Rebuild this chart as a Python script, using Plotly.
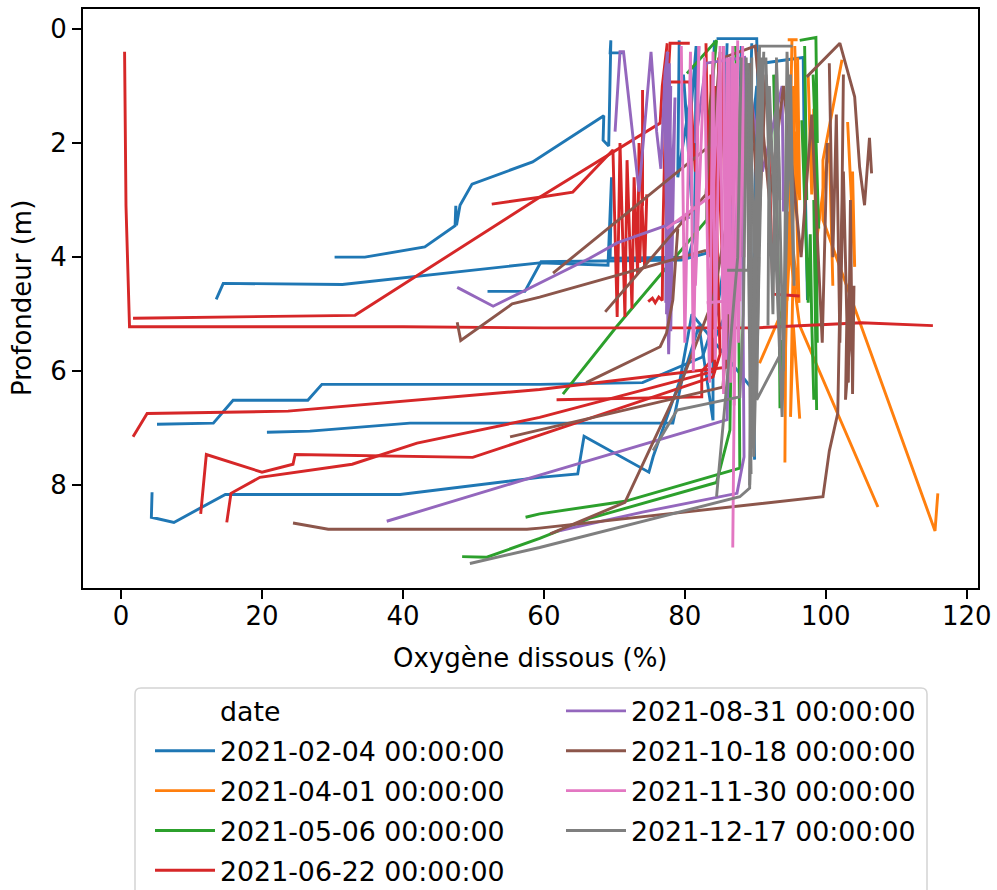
import plotly.graph_objects as go

# ---------------- data (O2 saturation %, depth m), one list of casts per date ----------------
dates = ["2021-02-04 00:00:00", "2021-04-01 00:00:00", "2021-05-06 00:00:00",
         "2021-06-22 00:00:00", "2021-08-31 00:00:00", "2021-10-18 00:00:00",
         "2021-11-30 00:00:00", "2021-12-17 00:00:00"]
colors = ["#1f77b4", "#ff7f0e", "#2ca02c", "#d62728", "#9467bd", "#8c564b", "#e377c2", "#7f7f7f"]

casts_0204 = [
    [(71.2, 0.42), (69.4, 0.42), (69.5, 0.2), (69.3, 1.2), (69.2, 2.05), (68.4, 1.95), (68.5, 1.52),
     (58.4, 2.33), (49.8, 2.72), (48.1, 3.09), (47.6, 3.44), (47.5, 3.1), (47.4, 3.45), (43.1, 3.82),
     (34.6, 4.0), (30.3, 4.0)],
    [(79.2, 0.2), (79.0, 2.6), (80.8, 1.2), (81.0, 3.1), (79.8, 0.8), (80.5, 2.0), (81.6, 0.3),
     (81.4, 3.6), (80.5, 4.0), (69.4, 4.02), (69.6, 2.6), (69.1, 4.14), (59.4, 4.1), (31.4, 4.48),
     (14.5, 4.46), (13.5, 4.74)],
    [(84.2, 0.2), (83.6, 2.2), (84.0, 3.9), (79.5, 4.05), (59.6, 4.08), (57.3, 4.6), (52.0, 4.6)],
    [(86.0, 0.25), (85.5, 2.0), (86.2, 3.6), (84.5, 5.0), (82.5, 5.75), (74.0, 6.2), (59.4, 6.23),
     (28.5, 6.23), (26.5, 6.51), (15.9, 6.51), (13.1, 6.91), (5.1, 6.93)],
    [(88.0, 0.3), (87.5, 3.0), (88.3, 1.5), (86.5, 4.8), (84.0, 5.5), (84.0, 6.86), (82.0, 5.2),
     (79.6, 6.15), (78.3, 6.91), (59.4, 6.91), (41.0, 6.91), (26.8, 7.05), (20.7, 7.07)],
    [(89.5, 0.25), (89.0, 2.5), (90.2, 1.0), (89.6, 5.5), (89.9, 7.55), (89.5, 6.3), (81.0, 5.0),
     (79.3, 6.16), (75.5, 7.5), (74.9, 7.77), (65.7, 7.14), (64.8, 7.8), (59.4, 7.86), (39.6, 8.16),
     (14.8, 8.16), (7.5, 8.65), (4.3, 8.56), (4.4, 8.12)],
    [(84.5, 0.17), (90.2, 0.17), (90.5, 1.8), (91.0, 0.6), (96.8, 0.5), (97.0, 2.8), (96.9, 1.5),
     (97.4, 4.75)],
]
casts_0401 = [
    [(94.6, 0.19), (96.0, 0.19), (95.2, 0.19), (94.9, 2.2), (95.5, 1.0), (95.2, 3.6), (94.6, 2.4),
     (94.2, 4.5), (94.8, 3.2), (94.3, 5.6), (94.2, 7.6)],
    [(96.0, 0.5), (96.3, 3.0), (95.6, 1.8), (96.2, 4.8), (95.4, 3.9), (95.0, 6.8), (95.4, 5.2),
     (96.3, 6.83)],
    [(95.8, 0.6), (95.3, 2.8), (94.5, 4.75), (90.6, 5.86)],
    [(95.6, 0.3), (96.0, 2.0), (95.0, 4.0), (96.3, 5.2), (107.4, 8.38)],
    [(102.3, 0.54), (99.6, 2.3), (99.6, 3.35), (115.5, 8.8), (115.9, 8.14)],
    [(103.1, 1.63), (103.6, 3.0), (104.1, 4.17), (103.8, 2.5)],
    [(97.5, 0.8), (98.0, 2.9), (98.3, 1.4), (98.6, 3.8), (100.5, 2.0), (101.0, 4.5)],
]
casts_0506 = [
    [(96.3, 0.2), (98.6, 0.15), (98.8, 2.0), (98.2, 0.8), (99.0, 3.5), (98.5, 1.5), (98.8, 5.5),
     (98.3, 3.0), (98.7, 6.68)],
    [(97.0, 0.3), (97.3, 3.0), (96.6, 1.6), (97.5, 4.8), (97.8, 3.6), (98.0, 5.1), (98.3, 6.5)],
    [(80.3, 0.78), (84.5, 0.2), (83.2, 1.8), (83.1, 3.35), (70.3, 5.22), (62.7, 6.4)],
    [(87.2, 0.3), (88.0, 4.0), (87.5, 2.0), (87.8, 7.7), (71.5, 8.28), (59.4, 8.5), (57.4, 8.56)],
    [(86.5, 0.5), (86.8, 3.5), (86.4, 7.03), (84.5, 7.95), (66.5, 8.58), (59.4, 8.93), (51.9, 9.26),
     (48.4, 9.25)],
    [(92.6, 0.8), (93.0, 3.0), (92.8, 1.5), (93.4, 5.0), (93.5, 6.65), (93.6, 5.45)],
    [(77.8, 1.3), (77.6, 3.05)],
]
casts_0622 = [
    [(0.5, 0.4), (0.7, 3.1), (1.2, 5.22), (40.0, 5.22), (60.0, 5.24), (90.0, 5.24), (100.0, 5.18),
     (105.0, 5.15), (115.2, 5.2)],
    [(77.5, 0.25), (76.8, 1.0), (76.5, 1.65), (59.4, 2.95), (33.2, 5.02), (1.7, 5.07)],
    [(80.7, 0.25), (77.9, 0.25), (77.6, 0.93), (80.7, 0.93), (81.5, 2.5)],
    [(74.0, 1.07), (74.0, 3.1), (73.5, 2.0), (73.3, 4.3), (72.8, 2.6), (72.5, 4.9), (71.8, 2.3),
     (71.5, 5.05), (70.8, 2.0), (70.4, 5.05), (69.8, 2.12), (64.1, 2.86), (59.4, 2.95), (52.6, 3.07)],
    [(74.6, 2.9), (74.3, 4.2), (73.9, 3.0), (73.6, 4.1)],
    [(83.0, 0.25), (83.5, 4.0), (83.2, 1.5), (84.0, 5.2), (83.6, 2.5), (84.2, 4.6)],
    [(91.8, 1.5), (92.5, 4.65), (96.3, 4.68)],
    [(85.5, 0.3), (85.0, 3.0), (85.8, 5.6), (86.0, 5.93), (59.4, 6.32), (23.7, 6.7), (3.7, 6.74),
     (1.7, 7.15)],
    [(84.8, 0.5), (84.5, 3.5), (85.0, 5.7), (84.0, 6.1), (59.4, 7.12), (49.9, 7.51), (24.7, 7.46),
     (24.4, 7.63), (20.0, 7.77), (12.1, 7.46), (11.3, 8.5)],
    [(84.3, 1.0), (84.6, 4.2), (84.2, 6.0), (59.4, 6.81), (42.0, 7.26), (32.8, 7.63), (19.7, 7.86),
     (15.6, 8.14), (15.0, 8.65)],
    [(83.7, 0.8), (83.9, 5.8), (82.4, 6.0), (82.4, 6.45), (61.8, 6.5)],
    [(74.8, 4.78), (75.4, 4.72), (75.8, 4.8), (76.3, 4.7), (76.8, 4.76), (76.9, 3.5), (77.3, 1.2)],
]
casts_0831 = [
    [(70.1, 1.8), (70.8, 0.4), (71.3, 0.4), (73.5, 2.85), (75.2, 0.4), (76.0, 1.8), (76.6, 2.45),
     (77.2, 0.75), (77.6, 0.4)],
    [(77.5, 0.4), (77.3, 4.8), (78.0, 1.0), (77.6, 5.2), (77.2, 1.5), (78.2, 4.5), (77.8, 0.6),
     (77.4, 5.0), (78.4, 2.0), (77.7, 5.7), (77.1, 0.9), (78.0, 5.3), (78.6, 1.2), (77.9, 4.0)],
    [(82.0, 0.3), (81.5, 2.0), (83.0, 0.6), (88.5, 0.5), (91.0, 2.5), (93.8, 1.0), (94.0, 3.2)],
    [(80.7, 3.3), (70.4, 3.75), (66.5, 4.02), (59.4, 4.46), (52.8, 4.86), (47.7, 4.53)],
    [(86.5, 0.5), (86.0, 3.0), (86.8, 1.5), (86.0, 6.85), (59.4, 7.82), (37.7, 8.63)],
    [(88.6, 0.6), (88.2, 4.0), (88.4, 7.5), (87.4, 8.14), (74.0, 8.47), (62.0, 8.8)],
]
casts_1018 = [
    [(97.3, 0.84), (102.0, 0.25), (104.1, 1.19), (104.8, 2.42), (105.5, 3.09), (106.2, 1.91),
     (106.5, 2.53)],
    [(100.5, 0.6), (101.0, 4.0), (101.5, 1.5), (102.0, 5.5), (102.5, 2.5), (103.2, 6.2), (103.5, 3.0),
     (103.8, 6.4), (104.0, 4.5), (102.8, 6.5), (103.0, 5.0)],
    [(102.5, 0.8), (102.3, 3.0), (102.0, 4.75), (101.7, 6.74), (100.5, 7.4), (99.6, 8.2),
     (59.4, 8.75), (57.6, 8.77), (29.4, 8.77), (24.4, 8.66)],
    [(85.0, 0.4), (84.5, 1.2), (84.0, 2.0), (61.3, 4.28)],
    [(84.0, 0.6), (83.5, 2.0), (83.0, 2.9), (68.7, 4.96)],
    [(83.0, 3.88), (66.5, 4.46), (59.4, 4.7), (55.5, 4.82), (48.2, 5.46), (47.7, 5.14)],
    [(85.5, 0.5), (90.0, 0.3), (92.0, 3.0), (94.0, 1.0), (96.5, 4.0), (98.0, 1.5), (99.5, 5.5),
     (100.2, 2.0)],
    [(86.0, 1.0), (86.5, 4.5), (85.4, 6.28), (59.4, 7.04), (55.2, 7.15)],
    [(87.0, 0.8), (86.5, 3.0), (84.0, 4.75), (79.6, 6.16), (71.5, 8.3), (60.9, 8.85)],
    [(79.0, 3.5), (78.3, 4.75), (77.4, 5.33), (76.5, 5.57), (66.0, 6.2)],
    [(88.0, 0.5), (88.5, 2.8), (89.2, 0.6), (90.5, 3.5), (91.5, 0.8), (92.5, 2.5)],
]
casts_1130 = [
    [(79.5, 0.3), (80.0, 5.5), (80.8, 0.4), (81.2, 6.0), (82.0, 0.3), (81.5, 4.5), (82.8, 0.5),
     (83.5, 6.2), (84.0, 0.4), (84.3, 5.8), (85.0, 0.3), (85.5, 6.4), (86.0, 0.5), (86.2, 5.0),
     (86.8, 0.3), (87.0, 6.6)],
    [(87.5, 0.2), (87.3, 4.0), (87.0, 6.5), (86.8, 9.09)],
    [(83.1, 4.8), (87.8, 4.75), (88.0, 1.0)],
    [(77.4, 3.5), (84.0, 2.9), (85.0, 0.5)],
    [(85.5, 0.3), (85.8, 5.8), (86.3, 0.5), (86.5, 6.2), (87.2, 0.6), (87.6, 5.5), (88.2, 0.3),
     (88.4, 4.0)],
]
casts_1217 = [
    [(95.3, 0.3), (90.6, 0.3), (90.0, 6.0), (90.8, 0.5), (89.5, 7.0), (91.2, 0.4), (90.3, 5.5),
     (89.0, 0.6), (89.8, 7.5), (91.0, 1.0), (89.2, 8.0), (90.5, 0.4), (90.0, 6.5), (88.7, 0.5),
     (89.4, 7.8)],
    [(89.5, 0.5), (89.2, 8.05), (87.8, 8.2), (59.4, 9.09), (49.5, 9.37)],
    [(88.0, 0.5), (87.5, 4.0), (86.0, 6.16), (84.5, 8.2)],
    [(88.8, 0.6), (88.3, 5.0), (87.8, 6.45), (78.9, 6.68), (75.5, 7.39)],
    [(93.0, 0.5), (93.5, 3.0), (92.8, 1.5), (93.5, 5.72), (90.2, 6.5), (90.5, 4.0)],
    [(86.0, 4.23), (89.0, 4.23), (89.5, 2.0)],
    [(91.5, 0.5), (92.5, 5.0), (93.0, 0.6), (94.0, 6.0), (94.5, 0.4), (95.5, 4.5), (95.0, 0.8),
     (93.8, 6.8), (92.0, 1.0), (91.8, 5.2)],
]
all_casts = [casts_0204, casts_0401, casts_0506, casts_0622,
             casts_0831, casts_1018, casts_1130, casts_1217]

x_ticks = [0, 20, 40, 60, 80, 100, 120]
y_ticks = [0, 2, 4, 6, 8]
x_title = "Oxygène dissous (%)"
y_title = "Profondeur (m)"
legend_title = "date"

# ---------------- figure ----------------
FONT = "DejaVu Sans"
FS = 26
LFS = 26.8
W, H = 997, 890
ML, MR, MT, MB = 83, 19, 9, 302
PW, PH = W - ML - MR, H - MT - MB


def px2paper(px, py):
    return (px - ML) / PW, (H - MB - py) / PH


fig = go.Figure()

# legend title entry
fig.add_trace(go.Scatter(x=[None], y=[None], mode="lines", name=legend_title,
                         line=dict(color="rgba(0,0,0,0)", width=3),
                         legend="legend", legendgroup="title", hoverinfo="skip"))

for i, (d, c, casts) in enumerate(zip(dates, colors, all_casts)):
    xs, ys = [], []
    for cast in casts:
        for o2, dep in cast:
            xs.append(o2)
            ys.append(dep)
        xs.append(None)
        ys.append(None)
    fig.add_trace(go.Scatter(x=xs, y=ys, mode="lines", name=d,
                             line=dict(color=c, width=2.9), connectgaps=False,
                             legend="legend" if i < 4 else "legend2",
                             legendgroup=d))

leg_common = dict(xref="container", yref="container", xanchor="left", yanchor="top",
                  bgcolor="rgba(0,0,0,0)", borderwidth=0,
                  font=dict(family=FONT, size=LFS), tracegroupgap=2, itemwidth=60)

axis_common = dict(showgrid=False, zeroline=False, showline=True, linecolor="black",
                   linewidth=2, mirror=True, ticks="outside", ticklen=9, tickwidth=2,
                   tickcolor="black", tickfont=dict(family=FONT, size=FS, color="black"))

fig.update_layout(
    width=W, height=H,
    margin=dict(l=ML, r=MR, t=MT, b=MB, autoexpand=False),
    paper_bgcolor="white", plot_bgcolor="white",
    font=dict(family=FONT, size=FS, color="black"),
    xaxis=dict(range=[-5.4, 121.6], tickvals=x_ticks, ticklabelstandoff=-5, **axis_common),
    yaxis=dict(range=[9.8, -0.35], tickvals=y_ticks, **axis_common),
    legend=dict(x=150 / W, y=1 - 687 / H, **leg_common),
    legend2=dict(x=561 / W, y=1 - 687 / H, **leg_common),
    showlegend=True,
)

# axis titles
xt_x, xt_y = px2paper(530, 658)
yt_x, yt_y = px2paper(22, 298)
fig.add_annotation(text=x_title, xref="paper", yref="paper", x=xt_x, y=xt_y,
                   xanchor="center", yanchor="middle", showarrow=False,
                   font=dict(family=FONT, size=FS, color="black"))
fig.add_annotation(text=y_title, xref="paper", yref="paper", x=yt_x, y=yt_y, textangle=-90,
                   xanchor="center", yanchor="middle", showarrow=False,
                   font=dict(family=FONT, size=FS, color="black"))

# legend frame (rounded box)
x0, y1 = px2paper(135, 688)
x1, y0 = px2paper(927, 905)
rx, ry = 6 / PW, 6 / PH
path = (f"M{x0+rx},{y1} L{x1-rx},{y1} Q{x1},{y1} {x1},{y1-ry} L{x1},{y0+ry} "
        f"Q{x1},{y0} {x1-rx},{y0} L{x0+rx},{y0} Q{x0},{y0} {x0},{y0+ry} "
        f"L{x0},{y1-ry} Q{x0},{y1} {x0+rx},{y1} Z")
fig.add_shape(type="path", path=path, xref="paper", yref="paper",
              line=dict(color="#d4d4d4", width=1.5), fillcolor="rgba(255,255,255,0.8)",
              layer="below")

fig.write_html("out.html")
